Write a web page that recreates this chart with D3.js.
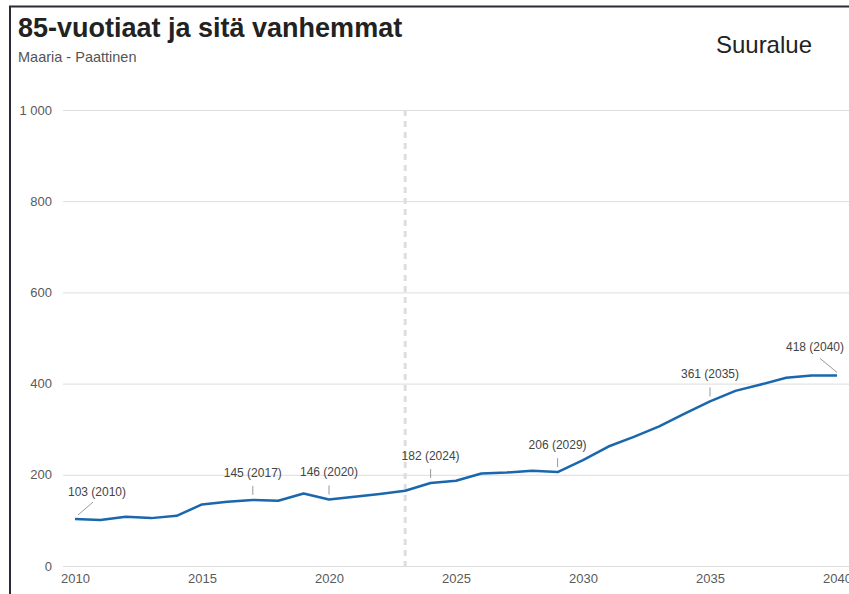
<!DOCTYPE html>
<html>
<head>
<meta charset="utf-8">
<script src="https://cdn.jsdelivr.net/npm/d3@7"></script>
<style>
  html, body { margin: 0; padding: 0; background: #fff; }
  svg { display: block; font-family: "Liberation Sans", Arial, sans-serif; }
</style>
</head>
<body>
<svg id="chart" width="849" height="594"></svg>
<script>
// Population aged 85+ in Maaria - Paattinen, history and forecast
const years = d3.range(2010, 2041);
const values = [103, 101, 108, 105, 110, 135, 141, 145, 143, 159, 146, 152, 158, 165,
                182, 187, 203, 205, 209, 206, 232, 262, 283, 306, 334, 361, 384, 398,
                413, 418, 418];
const yTicks = [0, 200, 400, 600, 800, 1000];
const xTicks = [2010, 2015, 2020, 2025, 2030, 2035, 2040];
const forecastStart = 2023;
// Points that carry a value label, and how the label is attached
const labelled = [
  { year: 2010, kind: "diag-left" },
  { year: 2017, kind: "up" },
  { year: 2020, kind: "up" },
  { year: 2024, kind: "up" },
  { year: 2029, kind: "up" },
  { year: 2035, kind: "up" },
  { year: 2040, kind: "diag-right" }
];

const svg = d3.select("#chart");
const x = d3.scaleLinear().domain([2010, 2040]).range([75, 837]);
const y = d3.scaleLinear().domain([0, 1000]).range([566, 110]);
const fmt = v => d3.format(",")(v).replace(/,/g, " ");

// frame
svg.append("path")
  .attr("d", "M10,594 L10,6.5 L849,6.5")
  .attr("fill", "none").attr("stroke", "#2a2a38").attr("stroke-width", 2);

// titles
svg.append("text").attr("x", 18).attr("y", 37)
  .attr("font-size", 27).attr("font-weight", "bold").attr("fill", "#222")
  .text("85-vuotiaat ja sitä vanhemmat");
svg.append("text").attr("x", 18).attr("y", 62)
  .attr("font-size", 14.5).attr("fill", "#555")
  .text("Maaria - Paattinen");
svg.append("text").attr("x", 812).attr("y", 53).attr("text-anchor", "end")
  .attr("font-size", 24).attr("fill", "#222")
  .text("Suuralue");

// y axis grid + labels
const yAxis = d3.axisLeft(y).tickValues(yTicks).tickFormat(fmt)
  .tickSize(-(849 - 63)).tickPadding(11);
const gy = svg.append("g").attr("transform", "translate(63,0)").call(yAxis);
gy.select(".domain").remove();
gy.selectAll(".tick line").attr("stroke", "#dcdcdc");
gy.selectAll(".tick text").attr("font-size", 13).attr("fill", "#5a5a5a")
  .attr("font-family", "Liberation Sans, Arial, sans-serif");

// x axis labels
const xAxis = d3.axisBottom(x).tickValues(xTicks).tickFormat(d3.format("d"))
  .tickSize(0).tickPadding(6);
const gx = svg.append("g").attr("transform", "translate(0,568)").call(xAxis);
gx.select(".domain").remove();
gx.selectAll(".tick text").attr("font-size", 13).attr("fill", "#5a5a5a")
  .attr("font-family", "Liberation Sans, Arial, sans-serif");

// forecast divider
svg.append("line")
  .attr("x1", x(forecastStart)).attr("x2", x(forecastStart))
  .attr("y1", y(1000)).attr("y2", y(0))
  .attr("stroke", "#dedede").attr("stroke-width", 3)
  .attr("stroke-dasharray", "6,5");

// series line
const data = years.map((yr, i) => ({ year: yr, value: values[i] }));
svg.append("path").datum(data)
  .attr("fill", "none").attr("stroke", "#1a67ad").attr("stroke-width", 2.5)
  .attr("stroke-linejoin", "round")
  .attr("d", d3.line().x(d => x(d.year)).y(d => y(d.value)));

// point labels
labelled.forEach(l => {
  const v = values[years.indexOf(l.year)];
  const px = x(l.year), py = y(v);
  const g = svg.append("g");
  let tx = px, ty;
  if (l.kind === "up") {
    g.append("line").attr("x1", px).attr("x2", px)
      .attr("y1", py - 5).attr("y2", py - 14)
      .attr("stroke", "#999").attr("stroke-width", 1);
    ty = py - 23;
  } else if (l.kind === "diag-left") {
    g.append("line").attr("x1", px + 3).attr("x2", px + 18)
      .attr("y1", py - 4).attr("y2", py - 17)
      .attr("stroke", "#999").attr("stroke-width", 1);
    tx = px + 22; ty = py - 23;
  } else {
    g.append("line").attr("x1", px).attr("x2", px - 17)
      .attr("y1", py - 3).attr("y2", py - 17)
      .attr("stroke", "#999").attr("stroke-width", 1);
    tx = px - 22; ty = py - 24;
  }
  g.append("text").attr("x", tx).attr("y", ty).attr("text-anchor", "middle")
    .attr("font-size", 12).attr("fill", "#444")
    .text(`${v} (${l.year})`);
});
</script>
</body>
</html>
